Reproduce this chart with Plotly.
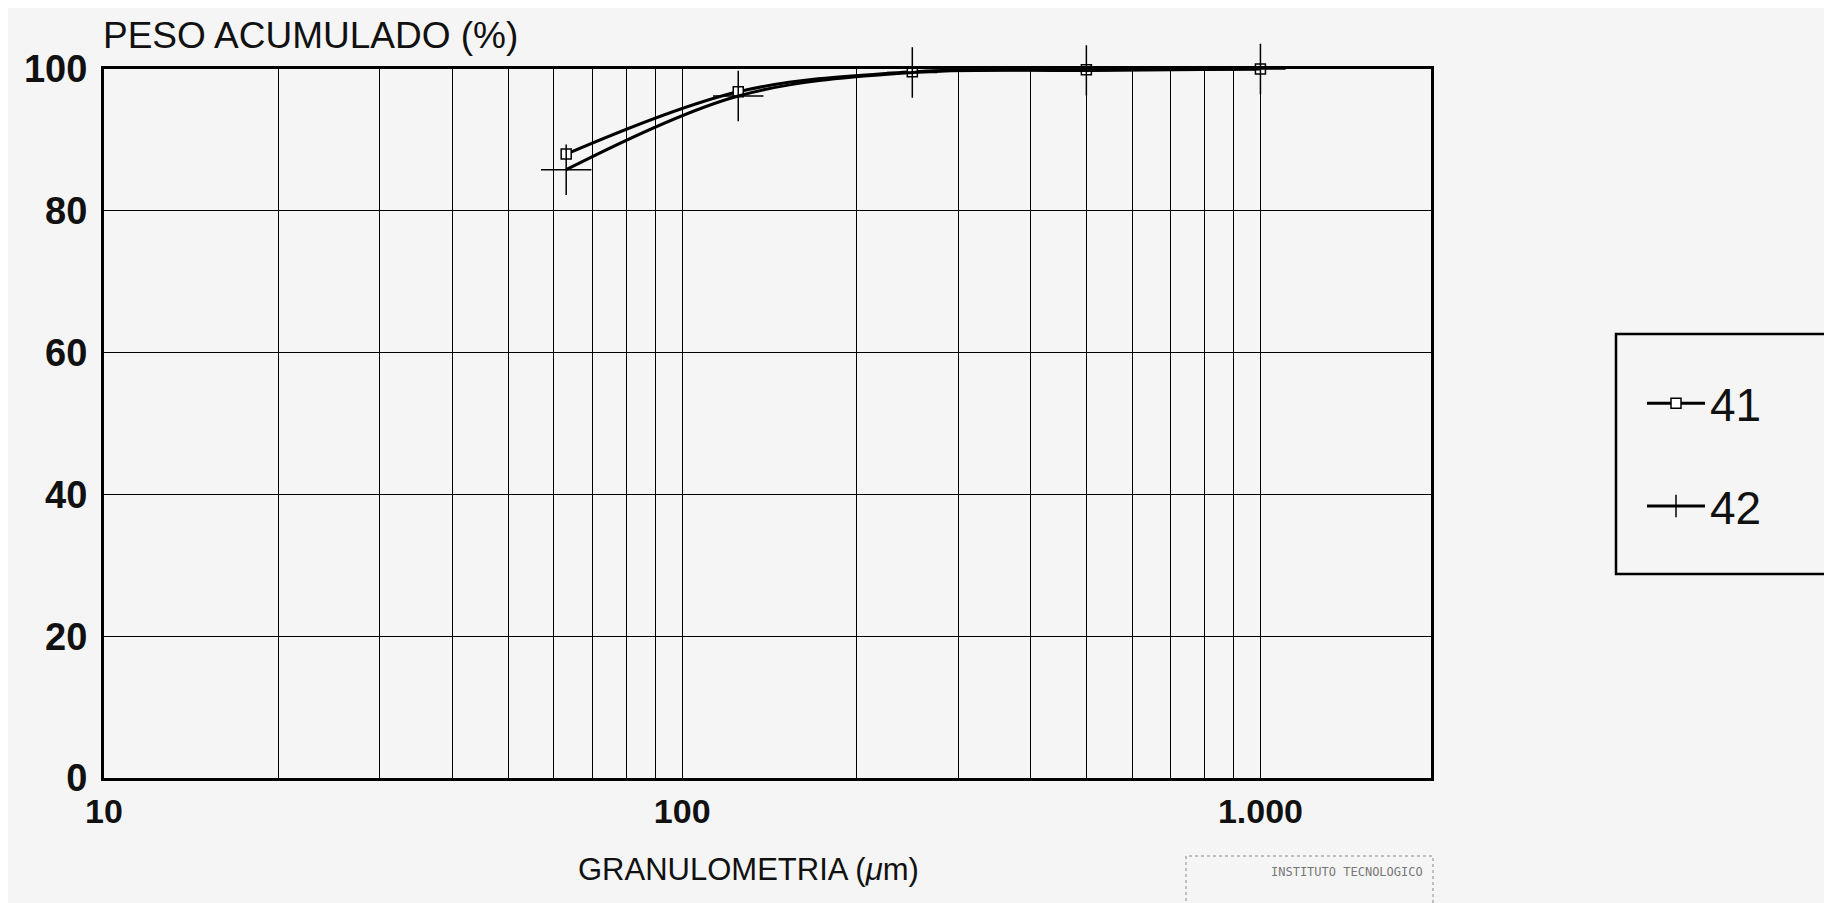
import plotly.graph_objects as go
import math

# ---- data ----
granulometria_um = [63, 125, 250, 500, 1000]
serie_41 = [88.0, 96.8, 99.6, 99.9, 100.0]
serie_42 = [85.8, 96.2, 99.5, 99.8, 100.0]
series_names = ["41", "42"]

x_major_ticks = [10, 100, 1000]
x_major_text = ["10", "100", "1.000"]
x_minor_ticks = [20, 30, 40, 50, 60, 70, 80, 90, 200, 300, 400, 500, 600, 700, 800, 900]
y_ticks = [0, 20, 40, 60, 80, 100]

FONT = "Liberation Sans, Arial, Helvetica, sans-serif"
BG = "#f5f5f5"

# plot box in figure pixels (page adds an 8px body margin)
L, T, W, H = 96, 61, 1327, 709


def px(xp):
    return (xp - 8 - L) / W


def py(yp):
    return (T + H - (yp - 8)) / H


fig = go.Figure()
fig.add_trace(go.Scatter(
    x=granulometria_um, y=serie_41, name=series_names[0], legendgroup="a",
    mode="lines+markers", cliponaxis=False,
    line=dict(color="black", width=3, shape="spline", smoothing=1.0),
    marker=dict(symbol="square", size=10, color="white", line=dict(color="black", width=1.5)),
))
fig.add_trace(go.Scatter(
    x=granulometria_um, y=serie_42, name=series_names[1], legendgroup="b",
    mode="lines+markers", cliponaxis=False,
    line=dict(color="black", width=3, shape="spline", smoothing=1.0),
    marker=dict(symbol="cross-thin", size=36, color="black", line=dict(color="black", width=1.5)),
))

fig.update_layout(
    width=1832, height=903,
    margin=dict(l=L, r=1832 - L - W, t=T, b=903 - T - H),
    paper_bgcolor=BG, plot_bgcolor=BG,
    font=dict(family=FONT, color="black"),
    showlegend=True,
    legend=dict(
        x=1.159, y=0.58, xanchor="left", yanchor="top",
        bgcolor="rgba(0,0,0,0)", borderwidth=0,
        font=dict(size=46, family=FONT, color="#111"),
        tracegroupgap=40, itemwidth=58,
    ),
    xaxis=dict(
        type="log", range=[1, 3.295],
        tickvals=x_major_ticks, ticktext=x_major_text,
        tickfont=dict(size=34, family=FONT, weight="bold", color="#111"),
        ticks="", ticklabelstandoff=1,
        showgrid=True, gridcolor="black", gridwidth=1.3,
        minor=dict(tickvals=x_minor_ticks, showgrid=True, gridcolor="black", gridwidth=1.3, ticks=""),
        showline=True, linecolor="black", linewidth=3, mirror=True,
        zeroline=False,
    ),
    yaxis=dict(
        range=[0, 100], tickvals=y_ticks,
        tickfont=dict(size=38, family=FONT, weight="bold", color="#111"),
        ticks="", ticklabelstandoff=6,
        showgrid=True, gridcolor="black", gridwidth=1.3,
        showline=True, linecolor="black", linewidth=3, mirror=True,
        zeroline=False,
    ),
    annotations=[
        dict(text="PESO ACUMULADO (%)", xref="paper", yref="paper",
             x=px(101), y=py(35), xanchor="left", yanchor="middle", showarrow=False,
             font=dict(size=37, family=FONT, color="#111")),
        dict(text="GRANULOMETRIA (<i>μ</i>m)", xref="paper", yref="paper",
             x=px(748), y=py(869), xanchor="center", yanchor="middle", showarrow=False,
             font=dict(size=31, family=FONT, color="#111")),
        dict(text="INSTITUTO TECNOLOGICO", xref="paper", yref="paper",
             x=px(1425), y=py(872), xanchor="right", yanchor="middle", showarrow=False,
             font=dict(size=12, family="DejaVu Sans Mono", color="#777")),
    ],
    shapes=[
        dict(type="rect", xref="paper", yref="paper",
             x0=px(1616), x1=px(1827), y0=py(574), y1=py(334),
             line=dict(color="black", width=2.5), fillcolor="rgba(0,0,0,0)"),
        dict(type="rect", xref="paper", yref="paper",
             x0=px(1186), x1=px(1433), y0=py(920), y1=py(856),
             line=dict(color="#888", width=1, dash="dot"), fillcolor="rgba(0,0,0,0)"),
    ],
)

fig.write_html("out.html")
